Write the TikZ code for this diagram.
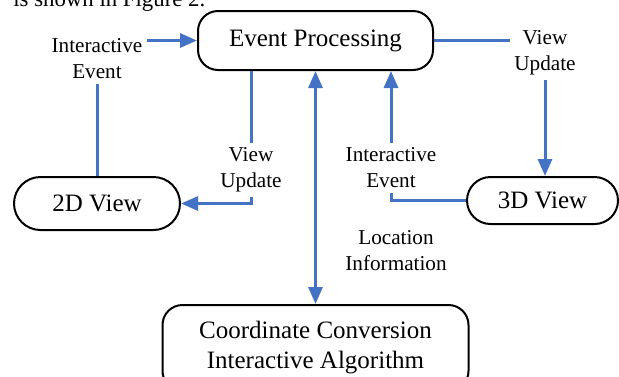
\documentclass[tikz,border=0pt]{standalone}
\usepackage{fontspec}
\setmainfont{Liberation Serif}
\definecolor{flowblue}{RGB}{68,114,196}
\usetikzlibrary{arrows.meta,shapes.misc}

\begin{document}
\begin{tikzpicture}[x=0.5pt,y=-0.5pt,>={Triangle[length=8.5pt,width=7pt]}]
  \tikzstyle{viewbox}=[rounded rectangle,draw=black,line width=1pt,inner sep=0pt,font=\fontsize{12.5}{15}\selectfont]
  \tikzstyle{procbox}=[rectangle,rounded corners=10pt,draw=black,line width=1pt,align=center,font=\fontsize{12.5}{15}\selectfont]
  \tikzstyle{flowlbl}=[align=center,inner sep=2pt,font=\fontsize{10.6}{13}\selectfont]
  \tikzstyle{flow}=[flowblue,line width=1.5pt]

  \useasboundingbox (0,0) rectangle (619,376);
  \clip (0,0) rectangle (619,376);

  \node[anchor=base west,inner sep=0pt,font=\fontsize{11.4}{14}\selectfont] (caption) at (13,6) {is shown in Figure 2.};

  \node[procbox,minimum width=117.5pt,minimum height=29.5pt] (ep) at (315.5,40.5) {Event Processing};
  \node[viewbox,minimum width=83pt,minimum height=26.5pt] (d2) at (97,203.5) {2D View};
  \node[viewbox,minimum width=75.5pt,minimum height=23.5pt] (d3) at (542.5,200.5) {3D View};
  \node[procbox,minimum width=153pt,minimum height=43pt] (cc) at (315.5,348) {Coordinate Conversion\\Interactive Algorithm};

  \node[flowlbl] (ie2d) at (97,59) {Interactive\\Event};
  \node[flowlbl] (vu2d) at (251,170) {View\\Update};
  \node[flowlbl] (ie3d) at (391,168) {Interactive\\Event};
  \node[flowlbl] (vu3d) at (545,53) {View\\Update};
  \node[flowlbl] (loc) at (396,251) {Location\\Information};

  % 2D view <-> event processing
  \draw[flow] (d2.north) -- (ie2d.south);
  \draw[flow,->] (ie2d.east |- ep.west) -- (ep.west);
  \draw[flow] (vu2d.north |- ep.south) -- (vu2d.north);
  \draw[flow,->] (vu2d.south) |- (d2.east);

  % location information
  \draw[flow,<->] (ep.south) -- (cc.north);

  % 3D view <-> event processing
  \draw[flow] (d3.west) -| (ie3d.south);
  \draw[flow,->] (ie3d.north) -- (ie3d.north |- ep.south);
  \draw[flow] (ep.east) -- (vu3d.west |- ep.east);
  \draw[flow,->] (vu3d.south) -- (vu3d.south |- d3.north);
\end{tikzpicture}
\end{document}
